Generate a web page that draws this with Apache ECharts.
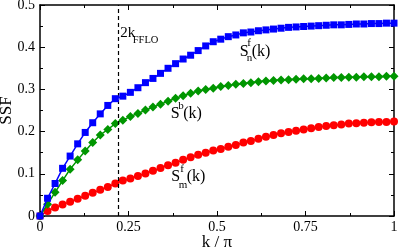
<!DOCTYPE html>
<html>
<head>
<meta charset="utf-8">
<script src="https://cdn.jsdelivr.net/npm/echarts@6/dist/echarts.min.js"></script>
<style>
html,body{margin:0;padding:0;background:#fff;}
#c{width:399px;height:249px;}
</style>
</head>
<body>
<div id="c"></div>
<script>
// k / pi values
const kValues = [0, 0.0213, 0.0426, 0.0638, 0.0851, 0.1064, 0.1277, 0.1489, 0.1702, 0.1915,
  0.2128, 0.2340, 0.2553, 0.2766, 0.2979, 0.3191, 0.3404, 0.3617, 0.3830, 0.4043,
  0.4255, 0.4468, 0.4681, 0.4894, 0.5106, 0.5319, 0.5532, 0.5745, 0.5957, 0.6170,
  0.6383, 0.6596, 0.6809, 0.7021, 0.7234, 0.7447, 0.7660, 0.7872, 0.8085, 0.8298,
  0.8511, 0.8723, 0.8936, 0.9149, 0.9362, 0.9574, 0.9787, 1];
// S_n^f(k) blue squares
const sNf = [0, 0.042, 0.077, 0.113, 0.142, 0.171, 0.198, 0.221, 0.242, 0.262,
  0.278, 0.284, 0.293, 0.304, 0.316, 0.326, 0.338, 0.350, 0.361, 0.372,
  0.381, 0.392, 0.403, 0.413, 0.419, 0.425, 0.429, 0.434, 0.436, 0.439,
  0.441, 0.443, 0.445, 0.447, 0.448, 0.449, 0.450, 0.451, 0.452, 0.453,
  0.453, 0.454, 0.455, 0.455, 0.456, 0.456, 0.457, 0.457];
// S^b(k) green diamonds
const sB = [0, 0.028, 0.056, 0.084, 0.111, 0.133, 0.154, 0.174, 0.192, 0.205,
  0.219, 0.227, 0.236, 0.243, 0.251, 0.258, 0.265, 0.272, 0.279, 0.285,
  0.291, 0.296, 0.300, 0.303, 0.307, 0.309, 0.312, 0.314, 0.316, 0.318,
  0.320, 0.321, 0.322, 0.323, 0.324, 0.325, 0.325, 0.326, 0.327, 0.328,
  0.328, 0.329, 0.329, 0.330, 0.330, 0.330, 0.331, 0.331];
// S_m^f(k) red circles
const sMf = [0, 0.012, 0.020, 0.027, 0.034, 0.041, 0.048, 0.055, 0.062, 0.069,
  0.077, 0.084, 0.089, 0.095, 0.101, 0.107, 0.114, 0.120, 0.126, 0.133,
  0.139, 0.145, 0.150, 0.155, 0.159, 0.164, 0.168, 0.174, 0.178, 0.183,
  0.188, 0.192, 0.196, 0.199, 0.202, 0.205, 0.208, 0.211, 0.213, 0.215,
  0.217, 0.219, 0.220, 0.221, 0.222, 0.223, 0.223, 0.224];
const kFFLO2 = 0.2175;
const xTicks = [0, 0.25, 0.5, 0.75, 1];
const yTicks = [0, 0.1, 0.2, 0.3, 0.4, 0.5];

const FONT = '"Liberation Serif", "Times New Roman", serif';
const pairs = arr => kValues.map((k, i) => [k, arr[i]]);
const fmt = v => String(+(+v).toFixed(3));

const chart = echarts.init(document.getElementById('c'), null, {renderer: 'canvas'});

const axisCommon = {
  axisLine: {show: true, onZero: false, lineStyle: {color: '#000', width: 1.5}},
  axisTick: {show: true, inside: true, length: 5, lineStyle: {color: '#000', width: 1}},
  minorTick: {show: true, splitNumber: 2, length: 3, lineStyle: {color: '#000', width: 1}},
  splitLine: {show: false}
};

chart.setOption({
  animation: false,
  backgroundColor: '#fff',
  grid: {left: 40, right: 5, top: 5, bottom: 33, containLabel: false, outerBoundsMode: 'none'},
  xAxis: [
    Object.assign({}, axisCommon, {
      type: 'value', min: xTicks[0], max: xTicks[xTicks.length - 1], interval: 0.25,
      position: 'bottom',
      name: 'k / π', nameLocation: 'middle', nameGap: 18, nameMoveOverlap: false,
      nameTextStyle: {fontFamily: FONT, fontSize: 17, color: '#000'},
      axisLabel: {show: true, margin: 4, fontFamily: FONT, fontSize: 14, color: '#000', formatter: fmt}
    }),
    Object.assign({}, axisCommon, {
      type: 'value', min: xTicks[0], max: xTicks[xTicks.length - 1], interval: 0.25,
      position: 'top', axisLabel: {show: false}
    })
  ],
  yAxis: [
    Object.assign({}, axisCommon, {
      type: 'value', min: yTicks[0], max: yTicks[yTicks.length - 1], interval: 0.1,
      position: 'left',
      name: 'SSF', nameLocation: 'middle', nameGap: 25, nameMoveOverlap: false,
      nameTextStyle: {fontFamily: FONT, fontSize: 17, color: '#000'},
      axisLabel: {show: true, margin: 5, fontFamily: FONT, fontSize: 14, color: '#000', formatter: fmt}
    }),
    Object.assign({}, axisCommon, {
      type: 'value', min: yTicks[0], max: yTicks[yTicks.length - 1], interval: 0.1,
      position: 'right', axisLabel: {show: false}
    })
  ],
  series: [
    {
      type: 'line', data: pairs(sMf), symbol: 'circle', symbolSize: 8,
      itemStyle: {color: '#ff0000'}, lineStyle: {color: '#ff0000', width: 1.5},
      z: 3,
      markLine: {
        silent: true, symbol: ['none', 'none'], animation: false,
        label: {show: false},
        lineStyle: {color: '#000', type: [4, 3], width: 1.2},
        data: [{xAxis: kFFLO2}]
      }
    },
    {
      type: 'line', data: pairs(sB), symbol: 'diamond', symbolSize: 9,
      itemStyle: {color: '#009600'}, lineStyle: {color: '#009600', width: 1.5}, z: 4
    },
    {
      type: 'line', data: pairs(sNf), symbol: 'rect', symbolSize: 7,
      itemStyle: {color: '#0000ff'}, lineStyle: {color: '#0000ff', width: 1.5}, z: 5
    }
  ]
});

// annotations anchored in data coordinates
function at(xd, yd) { return chart.convertToPixel({gridIndex: 0}, [xd, yd]); }
function t(p, dx, dy, s, size) {
  return {type: 'text', x: p[0] + dx, y: p[1] + dy, silent: true,
    style: {text: s, font: size + 'px ' + FONT, fill: '#000', verticalAlign: 'middle', align: 'left'}};
}
const a1 = at(0.2266, 0.4336);
const a2 = at(0.5641, 0.3898);
const a3 = at(0.3692, 0.2417);
const a4 = at(0.3706, 0.0924);
chart.setOption({
  graphic: [
    t(a1, 0, 0, '2k', 15), t(a1, 12.5, 7, 'FFLO', 10.5),
    t(a2, 0, 0, 'S', 16), t(a2, 7.5, -8, 'f', 11), t(a2, 7, 6.5, 'n', 11), t(a2, 12, 0, '(k)', 16),
    t(a3, 0, 0, 'S', 16), t(a3, 7.5, -8, 'b', 11), t(a3, 12.5, 0, '(k)', 16),
    t(a4, 0, 0, 'S', 16), t(a4, 9, -8, 'f', 11), t(a4, 7.5, 8, 'm', 11), t(a4, 15.5, 0, '(k)', 16)
  ]
});
</script>
</body>
</html>
